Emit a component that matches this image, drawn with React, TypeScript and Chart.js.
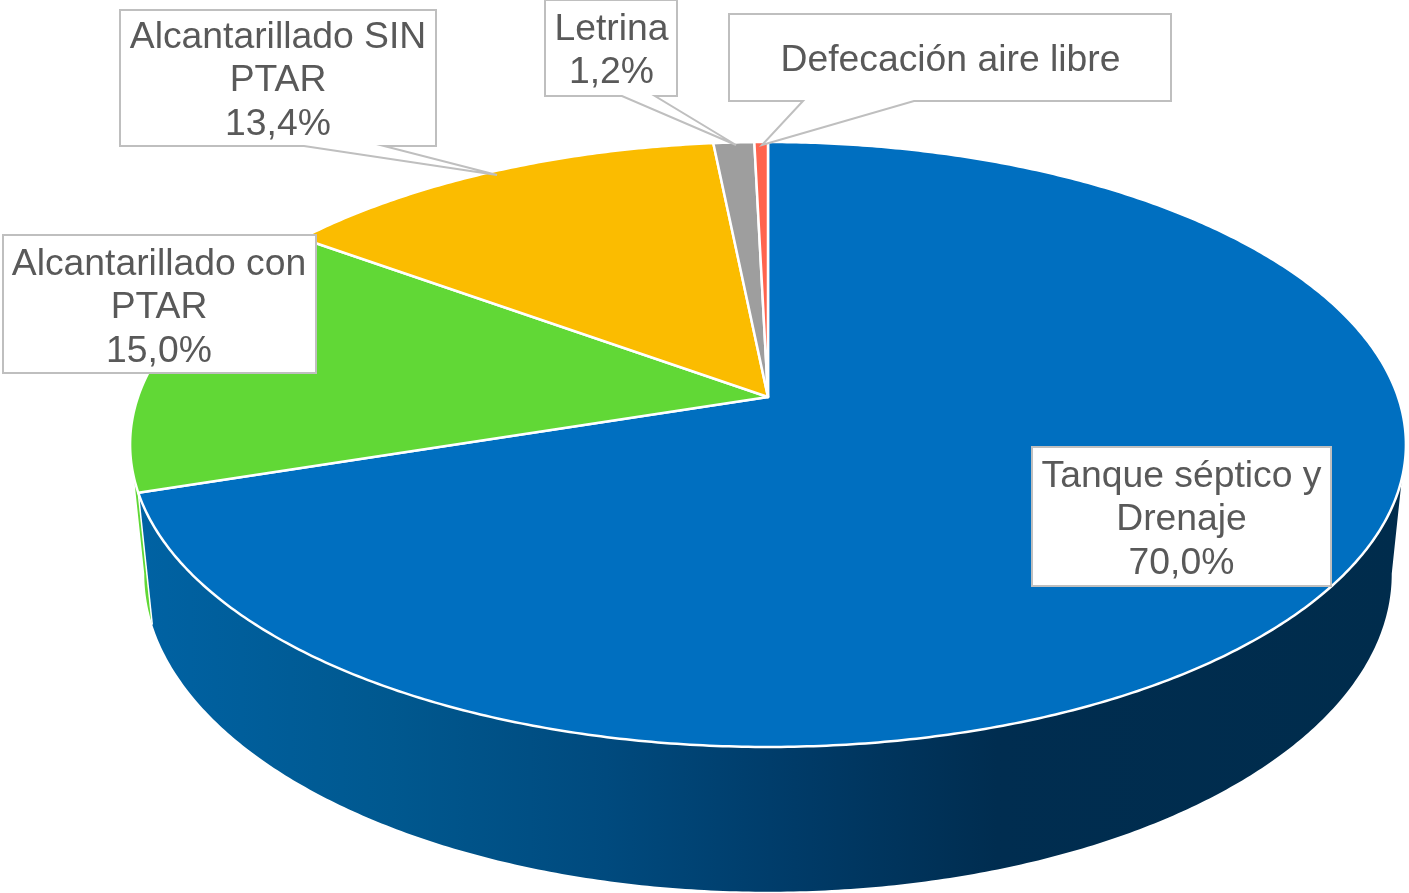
import React, { useEffect, useRef } from "react";
import { Chart, ArcElement, PieController } from "chart.js";

// ---- data ----
const categories = [
  "Tanque séptico y Drenaje",
  "Alcantarillado con PTAR",
  "Alcantarillado SIN PTAR",
  "Letrina",
  "Defecación aire libre",
];
const shares = [70.0, 15.0, 13.4, 1.2, 0.4];
const topColors = ["#006FC0", "#61D836", "#FBBC00", "#9E9E9E", "#FF644E"];
const showShare = [true, true, true, true, false];
const labelLines = [
  ["Tanque séptico y", "Drenaje"],
  ["Alcantarillado con", "PTAR"],
  ["Alcantarillado SIN", "PTAR"],
  ["Letrina"],
  ["Defecación aire libre"],
];

// ---- layout of the labels (callout boxes) ----
const W = 1409;
const H = 893;
const labelBoxes = [
  { l: 1032, t: 447, r: 1331, b: 586, cx: 1181.5, y0: 476.5 },
  { l: 3, t: 235, r: 316, b: 373, cx: 159, y0: 264.5 },
  { l: 120, t: 10, r: 436, b: 146, cx: 278, y0: 37.5, base: [304, 384], tip: [497, 175] },
  { l: 545, t: 0, r: 677, b: 96, cx: 611.5, y0: 29.5, base: [622, 655], tip: [736, 145] },
  { l: 729, t: 14, r: 1171, b: 101, cx: 950.5, y0: 60.5, base: [803, 914], tip: [762, 145] },
];

// ---- perspective projection of the pie's disc ----
const K = 0.157;
const TOP = { cx: 768, y0: 397, a: 630, b: 295 };
const BOTTOM = { cx: 768, y0: 524, a: 616, b: 310 };
const RAD = Math.PI / 180;
const project = (p: typeof TOP, phi: number) => {
  const u = Math.sin(phi);
  const v = -Math.cos(phi);
  const w = 1 - K * v;
  return [p.cx + (p.a * u) / w, p.y0 + (p.b * v) / w];
};
const rim = (ctx: CanvasRenderingContext2D, p: typeof TOP, from: number, to: number) => {
  const n = Math.max(2, Math.ceil(Math.abs(to - from) / (0.5 * RAD)));
  for (let i = 0; i <= n; i++) {
    const [x, y] = project(p, from + ((to - from) * i) / n);
    ctx.lineTo(x, y);
  }
};

class Arc3D extends ArcElement {
  static id = "arc3d";
  draw(ctx: CanvasRenderingContext2D) {
    const o: any = (this as any).options;
    const s = (this as any).startAngle + Math.PI / 2;
    const e = (this as any).endAngle + Math.PI / 2;
    ctx.save();
    ctx.beginPath();
    ctx.moveTo(TOP.cx, TOP.y0);
    rim(ctx, TOP, s, e);
    ctx.closePath();
    ctx.fillStyle = o.backgroundColor;
    ctx.fill();
    ctx.strokeStyle = o.borderColor;
    ctx.lineWidth = o.borderWidth;
    ctx.lineJoin = "round";
    ctx.stroke();
    ctx.restore();
  }
}

class Pie3D extends PieController {
  static id = "pie3d";
  static defaults = { dataElementType: "arc3d" };
}

const wallPlugin = {
  id: "wall",
  beforeDatasetsDraw(chart: any) {
    const { ctx } = chart;
    const arcs = chart.getDatasetMeta(0).data;
    const blueEnd = arcs[0].endAngle + Math.PI / 2;
    const green = arcs[1];
    ctx.save();
    // sliver of the second slice, just visible beyond the first one
    const g0 = project(TOP, blueEnd);
    const g1 = project(BOTTOM, blueEnd);
    ctx.beginPath();
    ctx.moveTo(g0[0], g0[1]);
    rim(ctx, TOP, blueEnd, blueEnd + 2.7 * RAD);
    rim(ctx, BOTTOM, blueEnd + 9 * RAD, blueEnd);
    ctx.closePath();
    ctx.fillStyle = green.options.backgroundColor;
    ctx.fill();
    // wall of the first slice
    const grad = ctx.createLinearGradient(140, 0, 1400, 0);
    grad.addColorStop(0, "#0062A3");
    grad.addColorStop(0.2, "#00588F");
    grad.addColorStop(0.37, "#004A7E");
    grad.addColorStop(0.52, "#003B68");
    grad.addColorStop(0.68, "#002D50");
    grad.addColorStop(1, "#002C4C");
    ctx.beginPath();
    const a0 = project(TOP, 105.4 * RAD);
    ctx.moveTo(a0[0], a0[1]);
    rim(ctx, TOP, 105.4 * RAD, blueEnd);
    rim(ctx, BOTTOM, blueEnd, 99 * RAD);
    ctx.closePath();
    ctx.fillStyle = grad;
    ctx.fill();
    // white seam on the wall's left edge
    ctx.beginPath();
    ctx.moveTo(g0[0], g0[1]);
    ctx.lineTo(g1[0], g1[1]);
    ctx.strokeStyle = "#FFFFFF";
    ctx.lineWidth = 1.5;
    ctx.stroke();
    ctx.restore();
  },
};

const labelPlugin = {
  id: "calloutLabels",
  afterDatasetsDraw(chart: any) {
    const { ctx } = chart;
    const shown = chart.data.datasets[0].data as number[];
    ctx.save();
    ctx.font = '37.3px "Liberation Sans"';
    ctx.textAlign = "center";
    ctx.textBaseline = "middle";
    labelBoxes.forEach((box: any, i) => {
      ctx.beginPath();
      ctx.moveTo(box.l, box.t);
      ctx.lineTo(box.r, box.t);
      ctx.lineTo(box.r, box.b);
      if (box.tip) {
        ctx.lineTo(box.base[1], box.b);
        ctx.lineTo(box.tip[0], box.tip[1]);
        ctx.lineTo(box.base[0], box.b);
      }
      ctx.lineTo(box.l, box.b);
      ctx.closePath();
      ctx.fillStyle = "#FFFFFF";
      ctx.fill();
      ctx.strokeStyle = "#BFBFBF";
      ctx.lineWidth = 2;
      ctx.stroke();
      const lines = [...labelLines[i]];
      if (showShare[i]) lines.push(shown[i].toFixed(1).replace(".", ",") + "%");
      ctx.fillStyle = "#595959";
      lines.forEach((t, j) => ctx.fillText(t, box.cx, box.y0 + j * 43.5));
    });
    ctx.restore();
  },
};

Chart.register(Pie3D, Arc3D);

export default function App() {
  const ref = useRef<HTMLCanvasElement>(null);
  useEffect(() => {
    const chart = new Chart(ref.current!, {
      type: "pie3d" as any,
      data: {
        labels: categories,
        datasets: [
          {
            data: shares,
            backgroundColor: topColors,
            borderColor: "#FFFFFF",
            borderWidth: 2.5,
          },
        ],
      },
      options: {
        animation: false,
        responsive: false,
        events: [],
        plugins: { legend: { display: false }, tooltip: { enabled: false } },
      } as any,
      plugins: [wallPlugin, labelPlugin],
    });
    return () => chart.destroy();
  }, []);
  return (
    <div style={{ position: "absolute", left: 0, top: 0, width: W, height: H, background: "#FFFFFF" }}>
      <canvas ref={ref} width={W} height={H} style={{ display: "block", width: W, height: H }} />
    </div>
  );
}
